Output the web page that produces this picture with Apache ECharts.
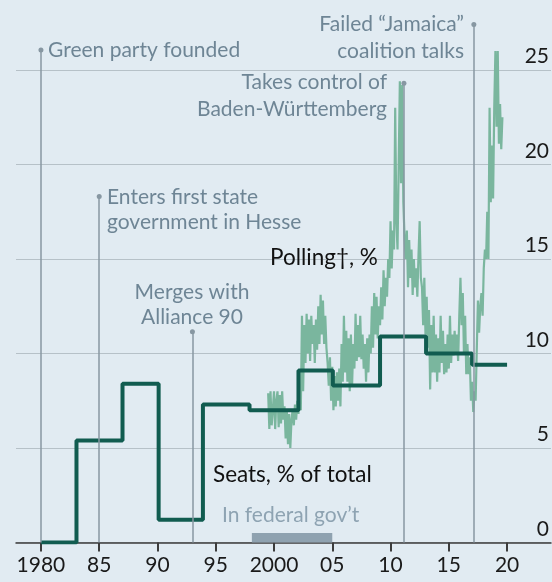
<!DOCTYPE html>
<html>
<head>
<meta charset="utf-8">
<script src="https://cdn.jsdelivr.net/npm/echarts@6/dist/echarts.min.js"></script>
<style>
html,body{margin:0;padding:0;background:#e1ebf2;}
#chart{width:552px;height:582px;}
</style>
</head>
<body>
<div id="chart"></div>
<script>
// x axis ticks
var tickYears = [1980, 1985, 1990, 1995, 2000, 2005, 2010, 2015, 2020];

// Bundestag seats, % of total (value holds until the next election)
var seatYears = [1980, 1983.05, 1987.0, 1990.1, 1993.9, 1997.9, 2002.1, 2005.05, 2009.1, 2013.05, 2017.0, 2020.0];
var seatShare = [0, 5.4, 8.4, 1.2, 7.3, 7.0, 9.1, 8.3, 10.9, 10.0, 9.4, 9.4];

// polling, %, one reading every 0.1 year from pollStart
var pollStart = 1999.5;
var pollStep = 0.1;
var pollShare = [
    7.9, 6.0, 8.0, 6.2, 7.0, 8.0, 6.0, 7.5, 8.0, 6.1, 7.8, 6.3, 8.0, 6.5,
    7.2, 5.5, 7.0, 5.2, 6.8, 5.0, 6.5, 7.0, 6.2, 7.3, 6.5, 7.5, 6.8, 7.8, 7.0,
    12.0, 8.0, 11.5, 9.5, 12.1, 10.0, 11.8, 9.6, 12.0, 10.5, 11.5, 9.5, 11.8, 10.2, 12.5, 10.5, 13.1, 11.0, 12.8, 10.5, 12.0, 10.3,
    9.5, 8.3, 9.8, 7.5, 9.3, 7.0, 8.8, 7.2, 9.0, 7.5, 9.2,
    7.2, 10.5, 8.5, 12.0, 9.0, 11.2, 8.5, 10.8, 8.0, 11.0, 8.3, 10.5, 9.2, 12.1, 9.6, 11.5, 9.8, 12.0, 9.7, 11.0, 9.2, 10.5, 8.5, 10.8, 9.0, 11.0, 10.0,
    12.5, 10.3, 13.2, 11.0, 13.0, 10.8, 12.5, 11.5, 13.5, 11.8, 14.4, 12.5, 14.0, 13.0, 15.0, 14.0,
    17.0, 14.5, 16.5, 15.5, 23.0, 17.0, 15.5, 20.0, 24.4, 19.0, 24.2, 18.0, 16.2,
    15.0, 16.5, 13.5, 16.0, 14.0, 15.5, 13.1, 15.0, 13.5, 14.5, 13.0, 15.2, 17.0, 14.0,
    13.5, 11.5, 14.0, 11.0, 13.0, 10.3, 12.3,
    8.1, 11.5, 9.0, 12.0, 9.0, 11.0, 8.5, 10.8, 9.0,
    12.0, 9.5, 11.2, 8.9, 10.5, 9.0, 11.0, 9.2, 12.0, 9.5, 11.0, 9.9, 11.2, 10.0, 11.0, 9.6, 12.0, 14.0, 11.5, 13.2, 10.0, 12.0, 8.9, 10.5,
    8.9, 9.8, 7.5, 8.5, 6.9, 8.0, 7.5,
    10.2, 12.8, 11.1, 12.5, 13.2, 12.0, 14.5, 15.5, 15.0, 17.5, 15.0, 23.0, 18.0, 21.0, 18.2, 23.0, 26.0, 22.0, 26.0, 21.1, 23.2, 20.8, 22.5
];

// event markers: year and height of the dot
var eventYears = [1980.0, 1985.0, 1993.0, 2011.15, 2017.15];
var eventTops = [26.05, 18.3, 11.15, 24.3, 27.4];

// federal government period
var fedGov = [1998.1, 2005.0];

var annoColor = '#6e8595';
var font = 'Lato';

var seatData = [];
for (var i = 0; i < seatYears.length; i++) seatData.push([seatYears[i], seatShare[i]]);
var pollData = [];
for (var j = 0; j < pollShare.length; j++) pollData.push([+(pollStart + j * pollStep).toFixed(2), pollShare[j]]);
var eventLines = [];
for (var k = 0; k < eventYears.length; k++) {
    eventLines.push([{coord: [eventYears[k], eventTops[k]]}, {coord: [eventYears[k], 0]}]);
}

function txt(s, x, y, align, color, size) {
    return {
        type: 'text', x: x, y: y, z: 50,
        style: {
            text: s, fill: color, font: size + 'px ' + font,
            align: align, verticalAlign: 'middle',
            textAlign: align, textVerticalAlign: 'middle'
        }
    };
}

var chart = echarts.init(document.getElementById('chart'));

option = {
    backgroundColor: '#e1ebf2',
    animation: false,
    grid: {left: 16, right: 0, top: 0, bottom: 39.5},
    xAxis: {
        type: 'value',
        min: 1977.86,
        max: 2023.77,
        axisLine: {lineStyle: {color: '#3c3c3c', width: 1.5}},
        axisTick: {customValues: tickYears, length: 9, lineStyle: {color: '#3c3c3c', width: 2}},
        axisLabel: {
            customValues: tickYears,
            margin: 12,
            fontFamily: font, fontSize: 21, color: '#1a1a1a',
            formatter: function (v) {
                if (v == 1980 || v == 2000) return String(v);
                return String(v).slice(2);
            }
        },
        splitLine: {show: false}
    },
    yAxis: {
        type: 'value',
        position: 'right',
        min: 0, max: 28.7, interval: 5,
        axisLine: {show: false},
        axisTick: {show: false},
        axisLabel: {
            inside: true, margin: 2,
            showMaxLabel: false,
            verticalAlign: 'bottom', align: 'right',
            fontFamily: font, fontSize: 21, color: '#1a1a1a',
            padding: [0, 0, 3, 0]
        },
        splitLine: {showMaxLine: false, lineStyle: {color: '#b6c1c8', width: 1.2}}
    },
    series: [
        {
            name: 'Polling',
            type: 'line',
            step: 'end',
            z: 2,
            symbol: 'none',
            data: pollData,
            lineStyle: {color: '#7ab69e', width: 2.2},
            markLine: {
                silent: true,
                symbol: ['circle', 'none'],
                symbolSize: 5,
                label: {show: false},
                lineStyle: {color: '#8797a2', width: 1.5, type: 'solid'},
                itemStyle: {color: '#8797a2'},
                data: eventLines
            },
            markArea: {
                silent: true,
                itemStyle: {color: '#8fa2b0'},
                data: [[{coord: [fedGov[0], 0]}, {coord: [fedGov[1], 0.5]}]]
            }
        },
        {
            name: 'Seats',
            type: 'line',
            step: 'end',
            z: 3,
            symbol: 'none',
            data: seatData,
            lineStyle: {color: '#115c50', width: 4}
        }
    ],
    graphic: [
        txt('Green party founded', 48, 50, 'left', annoColor, 21),
        txt('Failed \u201cJamaica\u201d', 464, 24, 'right', annoColor, 21),
        txt('coalition talks', 464, 51, 'right', annoColor, 21),
        txt('Takes control of', 387, 82, 'right', annoColor, 21),
        txt('Baden-W\u00fcrttemberg', 387, 109, 'right', annoColor, 21),
        txt('Enters first state', 107, 197, 'left', annoColor, 21),
        txt('government in Hesse', 107, 222, 'left', annoColor, 21),
        txt('Merges with', 192, 292, 'center', annoColor, 21),
        txt('Alliance 90', 192, 317, 'center', annoColor, 21),
        txt('Polling\u2020, %', 270, 258, 'left', '#111111', 22.5),
        txt('Seats, % of total', 213, 475, 'left', '#111111', 22.5),
        txt('In federal gov\u2019t', 222, 515, 'left', '#8ea3b2', 21)
    ]
};

chart.setOption(option);
</script>
</body>
</html>
